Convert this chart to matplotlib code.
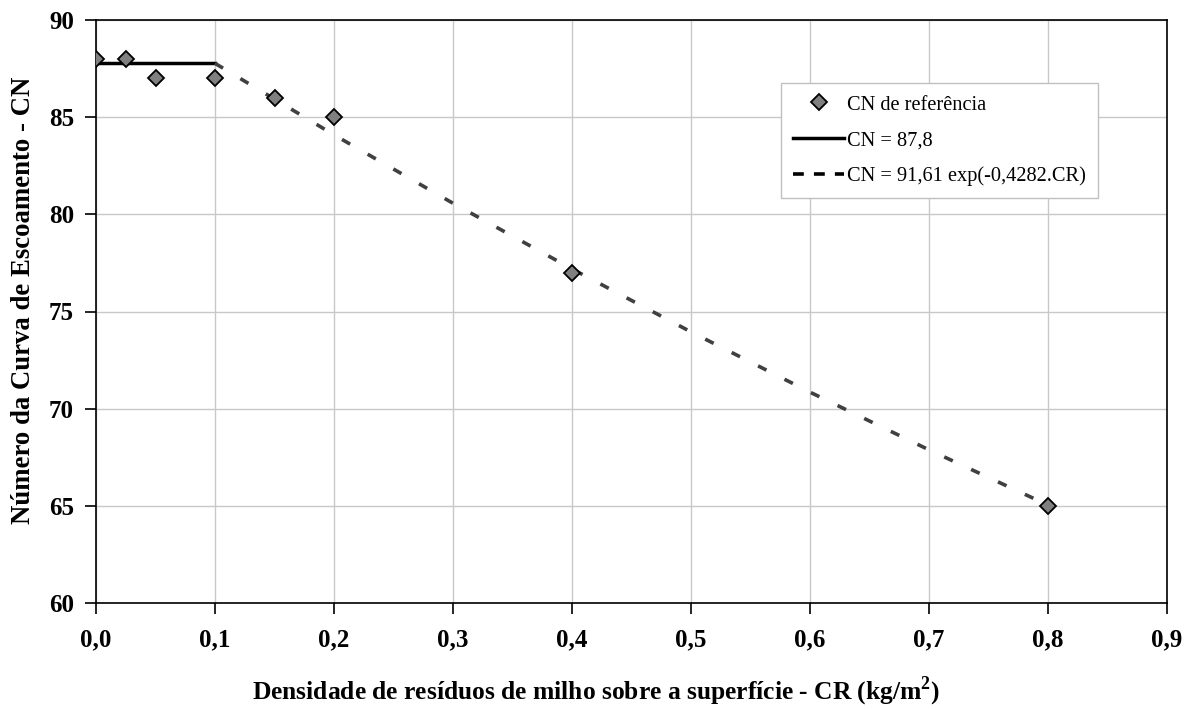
import matplotlib
matplotlib.use("Agg")
import matplotlib.pyplot as plt
from matplotlib.lines import Line2D
from matplotlib.ticker import FixedLocator, FuncFormatter

# Data
cr_ref = [0.0, 0.025, 0.05, 0.1, 0.15, 0.2, 0.4, 0.8]
cn_ref = [88, 88, 87, 87, 86, 85, 77, 65]

cr_const = [0.0, 0.1]
cn_const = [87.8, 87.8]

cr_fit = [0.1, 0.2, 0.3, 0.4, 0.5, 0.6, 0.7, 0.8]
cn_fit = [87.77, 84.09, 80.57, 77.19, 73.95, 70.85, 67.88, 65.04]

x_ticks = [0.0, 0.1, 0.2, 0.3, 0.4, 0.5, 0.6, 0.7, 0.8, 0.9]
y_ticks = [60, 65, 70, 75, 80, 85, 90]

labels = ["CN de referência", "CN = 87,8", "CN = 91,61 exp(-0,4282.CR)"]

plt.rcParams['font.family'] = ['Liberation Serif', 'DejaVu Serif']
plt.rcParams['mathtext.fontset'] = 'custom'
plt.rcParams['mathtext.rm'] = 'Liberation Serif'
plt.rcParams['mathtext.bf'] = 'Liberation Serif:bold'

W, H = 1194, 709
fig = plt.figure(figsize=(W / 100, H / 100), dpi=100)
ax = fig.add_axes([96 / W, 106 / H, 1071 / W, 583 / H])

mk = dict(linestyle='none', marker='D', markersize=8, markerfacecolor='#808080',
          markeredgecolor='black', markeredgewidth=1.3)
ax.plot(cr_ref, cn_ref, zorder=4, **mk)
ax.plot(cr_const, cn_const, color='black', linewidth=2.5, zorder=3)
ax.plot(cr_fit, cn_fit, color='#404040', linewidth=2.6, linestyle=(0, (2.6, 5.6)),
        zorder=3)

ax.set_xlim(0, 0.9)
ax.set_ylim(60, 90)
ax.xaxis.set_major_locator(FixedLocator(x_ticks))
ax.yaxis.set_major_locator(FixedLocator(y_ticks))
ax.xaxis.set_major_formatter(FuncFormatter(lambda v, p: f"{v:.1f}".replace('.', ',')))
ax.yaxis.set_major_formatter(FuncFormatter(lambda v, p: f"{v:.0f}"))
ax.grid(True, color='#c8c8c8', linewidth=1.0)
ax.set_axisbelow(True)
for s in ax.spines.values():
    s.set_color('black')
    s.set_linewidth(1.2)
ax.tick_params(axis='both', direction='out', length=8, width=1.2, colors='black',
               labelsize=18)
ax.tick_params(axis='x', pad=10)
ax.tick_params(axis='y', pad=8)
for lab in ax.get_xticklabels() + ax.get_yticklabels():
    lab.set_fontweight('bold')

fig.text(596 / W, 1 - 699 / H,
         r"Densidade de resíduos de milho sobre a superfície - CR (kg/m$^{\mathbf{2}}$)",
         fontsize=18.4, fontweight='bold', ha='center', va='baseline')
fig.text(24 / W, 1 - 300 / H, "Número da Curva de Escoamento - CN", fontsize=19.3,
         fontweight='bold', rotation=90, ha='center', va='center')

handles = [
    Line2D([], [], **mk),
    Line2D([], [], color='black', linewidth=2.5),
    Line2D([], [], color='black', linewidth=2.6, linestyle=(0, (3.0, 2.8))),
]
leg = ax.legend(handles, labels, loc='upper left', bbox_to_anchor=(0.6396, 0.892),
                fontsize=14.7, frameon=True, fancybox=False, edgecolor='#c0c0c0',
                framealpha=1, handlelength=2.5, handletextpad=0.12, labelspacing=0.8,
                borderpad=0.6, borderaxespad=0)
leg.get_frame().set_linewidth(1.0)

fig.savefig("out.png", dpi=100)
